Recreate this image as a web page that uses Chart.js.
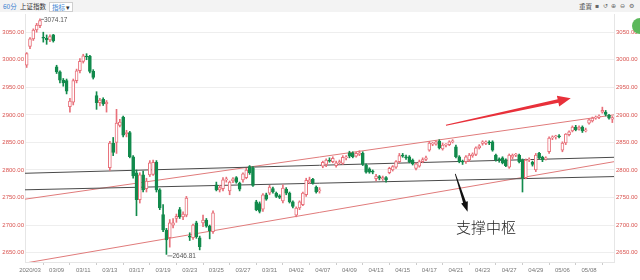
<!DOCTYPE html>
<html>
<head>
<meta charset="utf-8">
<script src="https://cdn.jsdelivr.net/npm/chart.js@4"></script>
<style>
body { margin: 0; width: 640px; height: 280px; overflow: hidden; background: #fff; font-family: "Noto Sans CJK SC", sans-serif; }
#top { position: absolute; left: 0; top: 0; width: 640px; height: 12px; background: #f3f3f3; font-size: 6.5px; line-height: 12px; color: #333; }
#top span { position: absolute; top: 0; }
#top .box { top: 2px; height: 8px; line-height: 8px; border: 1px solid #cfcfcf; background: #fff; padding: 0 2px; }
#top .ico { color: #666; font-family: "DejaVu Sans", sans-serif; font-size: 6px; }
#wrap { position: absolute; left: 0; top: 13px; width: 640px; height: 267px; }
#dot { position: absolute; left: 632px; top: 18px; width: 16px; height: 16px; border-radius: 50%; background: #5cb85c; }
</style>
</head>
<body>
<div id="top">
  <span style="left:3px;color:#3b7fd1">60分</span>
  <span style="left:20px">上证指数</span>
  <span class="box" style="left:49px"><b style="font-weight:normal;color:#3b7fd1">指标</b> ▾</span>
  <span style="left:579px;color:#555">重置</span>
  <span class="ico" style="left:595px">▪</span>
  <span class="ico" style="left:603px">↺</span>
  <span class="ico" style="left:611px">⊕</span>
  <span class="ico" style="left:620px">⊖</span>
  <span class="ico" style="left:629px">⚙</span>
</div>
<div id="wrap"><canvas id="chart-1"></canvas></div>
<div id="dot"></div>
<script>
// 60-minute candles, 03/04 last bar then 4 bars a day
const days = ['03/04',
  '03/05', '03/06', '03/09', '03/10', '03/11', '03/12', '03/13', '03/16', '03/17', '03/18',
  '03/19', '03/20', '03/23', '03/24', '03/25', '03/26', '03/27', '03/30', '03/31', '04/01',
  '04/02', '04/03', '04/07', '04/08', '04/09', '04/10', '04/13', '04/14', '04/15', '04/16',
  '04/17', '04/20', '04/21', '04/22', '04/23', '04/24', '04/27', '04/28', '04/29', '04/30',
  '05/06', '05/07', '05/08', '05/11'];
const hours = ['10:30', '11:30', '14:00', '15:00'];

const opens = [2990,
  3024, 3038, 3054, 3062,  3040, 3039, 3036, 3045,  2987, 2978, 2963, 2962,  2915, 2923, 2962, 2980,
  2997, 3006, 3006, 2979,  2935, 2922, 2928, 2920,  2804, 2849, 2850, 2881,  2896, 2866, 2868, 2824,
  2795, 2746, 2791, 2766,  2791, 2792, 2814, 2764,  2719, 2691, 2677, 2700,  2712, 2728, 2715, 2718,
  2680, 2677, 2704, 2677,  2704, 2709, 2698, 2688,  2773, 2764, 2766, 2782,  2762, 2780, 2786, 2776,
  2782, 2786, 2806, 2804,  2742, 2739, 2729, 2755,  2758, 2766, 2758, 2753,  2744, 2765, 2758, 2742,
  2718, 2731, 2737, 2755,  2778, 2783, 2769, 2762,  2807, 2810, 2817, 2815,  2808, 2813, 2812, 2822,
  2831, 2831, 2825, 2828,  2830, 2809, 2802, 2797,  2784, 2788, 2784, 2786,  2795, 2800, 2805, 2815,
  2826, 2824, 2824, 2818,  2803, 2807, 2815, 2819,  2836, 2847, 2847, 2852,  2838, 2845, 2846, 2851,
  2842, 2824, 2815, 2815,  2818, 2826, 2828, 2840,  2848, 2848, 2850, 2851,  2827, 2820, 2822, 2818,
  2805, 2823, 2827, 2827,  2818, 2786, 2818, 2814,  2800, 2830, 2823, 2820,  2833, 2858, 2860, 2861,
  2836, 2849, 2864, 2871,  2878, 2874, 2878, 2871,  2885, 2889, 2894, 2896,  2905, 2905, 2899, 2892];
const highs = [3013,
  3040, 3056, 3066, 3074.17,  3050, 3045, 3045, 3046,  2990, 2980, 2966, 2965,  2930, 2965, 2983, 3002,
  3010, 3011, 3008, 2982,  2942, 2930, 2931, 2926,  2852, 2859, 2910, 2892,  2898, 2872, 2870, 2826,
  2800, 2795, 2798, 2785,  2817, 2818, 2817, 2766,  2737, 2694, 2710, 2712,  2720, 2732, 2724, 2752,
  2686, 2702, 2707, 2680,  2718, 2712, 2700, 2726,  2778, 2772, 2786, 2787,  2780, 2786, 2788, 2778,
  2795, 2803, 2808, 2806,  2745, 2742, 2757, 2758,  2772, 2769, 2760, 2755,  2773, 2768, 2760, 2744,
  2733, 2744, 2760, 2785,  2787, 2785, 2771, 2768,  2816, 2820, 2822, 2824,  2816, 2818, 2826, 2826,
  2834, 2833, 2832, 2835,  2833, 2811, 2804, 2800,  2792, 2790, 2789, 2788,  2805, 2808, 2817, 2830,
  2830, 2827, 2826, 2820,  2813, 2818, 2822, 2825,  2852, 2850, 2853, 2855,  2849, 2848, 2853, 2855,
  2845, 2826, 2818, 2826,  2830, 2831, 2842, 2846,  2853, 2853, 2853, 2853,  2829, 2822, 2824, 2820,
  2829, 2829, 2830, 2829,  2820, 2820, 2822, 2816,  2830, 2832, 2825, 2824,  2860, 2862, 2863, 2864,
  2851, 2866, 2871, 2880,  2881, 2880, 2880, 2876,  2893, 2896, 2898, 2900,  2914, 2908, 2901, 2897];
const lows = [2986,
  3020, 3035, 3050, 3058,  3032, 3028, 3033, 3032,  2975, 2958, 2952, 2938,  2905, 2918, 2958, 2976,
  2994, 3000, 2976, 2965,  2910, 2916, 2917, 2905,  2799, 2826, 2830, 2878,  2860, 2860, 2822, 2785,
  2717, 2740, 2760, 2760,  2788, 2790, 2760, 2728,  2688, 2646.81, 2660, 2695,  2705, 2712, 2710, 2715,
  2672, 2674, 2676, 2655,  2697, 2696, 2675, 2685,  2762, 2760, 2762, 2778,  2755, 2777, 2776, 2762,
  2778, 2784, 2792, 2770,  2726, 2722, 2725, 2745,  2755, 2758, 2750, 2748,  2740, 2755, 2740, 2731,
  2715, 2728, 2735, 2752,  2775, 2774, 2758, 2758,  2804, 2806, 2814, 2813,  2805, 2810, 2810, 2818,
  2822, 2822, 2823, 2826,  2808, 2794, 2794, 2793,  2780, 2782, 2781, 2778,  2793, 2798, 2803, 2813,
  2823, 2819, 2813, 2809,  2800, 2805, 2813, 2817,  2834, 2844, 2845, 2838,  2836, 2842, 2844, 2849,
  2822, 2813, 2810, 2812,  2815, 2823, 2826, 2838,  2845, 2846, 2846, 2834,  2816, 2814, 2811, 2806,
  2803, 2820, 2824, 2813,  2760, 2784, 2815, 2807,  2797, 2820, 2815, 2818,  2830, 2855, 2856, 2858,
  2833, 2846, 2862, 2869,  2871, 2872, 2868, 2869,  2883, 2887, 2892, 2893,  2903, 2898, 2892, 2886];
const closes = [3011,
  3038, 3054, 3063, 3071,  3039, 3036, 3042, 3034,  2978, 2963, 2958, 2943,  2925, 2962, 2980, 2997,
  3007, 3005, 2979, 2968,  2922, 2927, 2920, 2923,  2849, 2832, 2885, 2887,  2863, 2868, 2824, 2789,
  2746, 2791, 2764, 2780,  2813, 2814, 2764, 2731,  2691, 2673, 2704, 2704,  2716, 2715, 2720, 2749,
  2678, 2700, 2679, 2661,  2709, 2698, 2690, 2722,  2764, 2768, 2782, 2783,  2778, 2784, 2778, 2765,
  2793, 2800, 2795, 2772,  2728, 2725, 2755, 2747,  2769, 2760, 2752, 2750,  2767, 2758, 2742, 2734,
  2731, 2742, 2758, 2781,  2782, 2776, 2760, 2764,  2814, 2818, 2816, 2821,  2813, 2815, 2823, 2823,
  2825, 2824, 2830, 2831,  2810, 2796, 2796, 2796,  2789, 2785, 2786, 2782,  2803, 2806, 2815, 2826,
  2825, 2822, 2815, 2811,  2811, 2815, 2819, 2822,  2849, 2847, 2851, 2840,  2845, 2846, 2851, 2853,
  2824, 2815, 2814, 2824,  2827, 2829, 2840, 2844,  2851, 2851, 2849, 2836,  2818, 2818, 2813, 2808,
  2827, 2827, 2828, 2815,  2786, 2818, 2818, 2810,  2827, 2822, 2818, 2822,  2858, 2860, 2861, 2860,
  2849, 2865, 2869, 2878,  2873, 2878, 2871, 2872,  2891, 2894, 2896, 2897,  2908, 2901, 2894, 2895];

// x tick labels (every second trading day) and y ticks
const tickDays = ['03/05', '03/09', '03/11', '03/13', '03/17', '03/19', '03/23', '03/25', '03/27', '03/31', '04/02',
  '04/07', '04/09', '04/13', '04/15', '04/17', '04/21', '04/23', '04/27', '04/29', '05/06', '05/08'];
const tickLabels = ['2020/03', '03/09', '03/11', '03/13', '03/17', '03/19', '03/23', '03/25', '03/27', '03/31', '04/02',
  '04/07', '04/09', '04/13', '04/15', '04/17', '04/21', '04/23', '04/27', '04/29', '05/06', '05/08'];
const yTicks = [2650, 2700, 2750, 2800, 2850, 2900, 2950, 3000, 3050];

// trend lines: price at left edge, price at right edge
const supportUpper = [2794, 2823];
const supportLower = [2764, 2788];
const channelUpper = [2747, 2900];
const channelLower = [2631, 2815];

const barLabels = [days[0] + ' 15:00'];
days.slice(1).forEach(d => hours.forEach(h => barLabels.push(d + ' ' + h)));

const UP = '#e8707a';
const DOWN = '#128a4c';
const isUp = opens.map((o, i) => closes[i] >= o);

function trend(pair, color) {
    return {
        type: 'line',
        xAxisID: 'xl',
        data: [{ x: 0, y: pair[0] }, { x: 1, y: pair[1] }],
        borderColor: color,
        borderWidth: 1,
        pointRadius: 0,
        order: 3
    };
}

function arrow(ctx, x0, y0, x1, y1, w0, w1, headLen, headW) {
    const L = Math.hypot(x1 - x0, y1 - y0);
    const ux = (x1 - x0) / L, uy = (y1 - y0) / L, nx = -uy, ny = ux;
    const bx = x1 - ux * headLen, by = y1 - uy * headLen;
    ctx.beginPath();
    ctx.moveTo(x0 + nx * w0 / 2, y0 + ny * w0 / 2);
    ctx.lineTo(bx + nx * w1 / 2, by + ny * w1 / 2);
    ctx.lineTo(bx + nx * headW / 2, by + ny * headW / 2);
    ctx.lineTo(x1, y1);
    ctx.lineTo(bx - nx * headW / 2, by - ny * headW / 2);
    ctx.lineTo(bx - nx * w1 / 2, by - ny * w1 / 2);
    ctx.lineTo(x0 - nx * w0 / 2, y0 - ny * w0 / 2);
    ctx.closePath();
    ctx.fill();
}

// high/low labels, hand drawn arrows and the note text
const notes = {
    id: 'notes',
    afterDatasetsDraw(c) {
        const { ctx, scales: { x, y } } = c;
        const hi = Math.max(...highs), hiI = highs.indexOf(hi);
        const lo = Math.min(...lows), loI = lows.indexOf(lo);
        ctx.save();
        ctx.font = '6.5px "Liberation Sans", sans-serif';
        ctx.textBaseline = 'middle';
        ctx.fillStyle = '#555';
        ctx.strokeStyle = '#888';
        ctx.lineWidth = 1;
        let px = x.getPixelForValue(hiI), py = y.getPixelForValue(hi);
        ctx.beginPath(); ctx.moveTo(px + 1, py + 0.5); ctx.lineTo(px + 4, py + 0.5); ctx.stroke();
        ctx.fillText(hi.toFixed(2), px + 4, py + 1);
        px = x.getPixelForValue(loI); py = y.getPixelForValue(lo);
        ctx.beginPath(); ctx.moveTo(px + 1, py + 1.5); ctx.lineTo(px + 6, py + 1.5); ctx.stroke();
        ctx.fillText(lo.toFixed(2), px + 6, py + 2);

        ctx.fillStyle = '#e8303a';
        arrow(ctx, x.getPixelForValue(126), y.getPixelForValue(2881), x.getPixelForValue(163.5), y.getPixelForValue(2930), 1, 3.5, 13, 11);
        ctx.fillStyle = '#111';
        arrow(ctx, x.getPixelForValue(128.8), y.getPixelForValue(2793), x.getPixelForValue(132.5), y.getPixelForValue(2724), 0.8, 3, 10, 7);

        ctx.font = '300 15px "Noto Sans CJK SC", sans-serif';
        ctx.textAlign = 'center';
        ctx.fillStyle = '#222';
        ctx.fillText('支撑中枢', x.getPixelForValue(138), y.getPixelForValue(2696));
        ctx.restore();
    }
};

Chart.defaults.font.family = '"Liberation Sans", Arial, sans-serif';

new Chart(document.getElementById('chart-1'), {
    type: 'bar',
    data: {
        labels: barLabels,
        datasets: [
            {
                label: 'body',
                data: opens.map((o, i) => [o, closes[i]]),
                backgroundColor: isUp.map(u => u ? '#ffffff' : DOWN),
                borderColor: isUp.map(u => u ? UP : DOWN),
                borderWidth: 1,
                borderSkipped: false,
                barThickness: 3,
                minBarLength: 1,
                grouped: false,
                order: 0
            },
            {
                label: 'wick',
                data: lows.map((l, i) => [l, highs[i]]),
                backgroundColor: isUp.map(u => u ? UP : DOWN),
                barThickness: 1,
                grouped: false,
                order: 1
            },
            trend(supportUpper, '#4a4a4a'),
            trend(supportLower, '#4a4a4a'),
            trend(channelUpper, '#e07b7b'),
            trend(channelLower, '#e07b7b')
        ]
    },
    options: {
        responsive: true,
        maintainAspectRatio: false,
        animation: false,
        layout: { padding: { top: 1, bottom: 0, left: 0, right: 0 } },
        plugins: {
            legend: { display: false },
            tooltip: { enabled: false }
        },
        scales: {
            x: {
                afterBuildTicks: s => {
                    s.ticks = tickDays.map(d => ({ value: barLabels.indexOf(d + ' ' + hours[0]) }));
                },
                afterFit: s => { s.height = 18; s.paddingLeft = 0; s.paddingRight = 0; },
                ticks: {
                    callback: (v, i) => tickLabels[i],
                    autoSkip: false,
                    maxRotation: 0,
                    minRotation: 0,
                    color: '#777',
                    font: { size: 6 },
                    padding: 2
                },
                grid: { drawOnChartArea: false, tickLength: 3, color: '#cccccc' },
                border: { color: '#e6e6e6' }
            },
            xl: {
                type: 'linear',
                display: false,
                offset: false,
                min: 0,
                max: 1
            },
            y: {
                min: 2633,
                max: 3083,
                afterBuildTicks: s => { s.ticks = yTicks.map(v => ({ value: v })); },
                afterFit: s => { s.width = 25; s.paddingTop = 0; s.paddingBottom = 0; },
                ticks: {
                    callback: v => v.toFixed(2),
                    color: '#d9534f',
                    font: { size: 6 },
                    padding: 1
                },
                grid: { color: '#eeeeee', drawTicks: false },
                border: { color: '#e6e6e6' }
            },
            y2: {
                position: 'right',
                min: 2633,
                max: 3083,
                afterBuildTicks: s => { s.ticks = yTicks.map(v => ({ value: v })); },
                afterFit: s => { s.width = 26; s.paddingTop = 0; s.paddingBottom = 0; },
                ticks: {
                    callback: v => v.toFixed(2),
                    color: '#d9534f',
                    font: { size: 6 },
                    padding: 2
                },
                grid: { drawOnChartArea: false, drawTicks: false },
                border: { color: '#e6e6e6' }
            }
        }
    },
    plugins: [notes]
});
</script>
</body>
</html>
